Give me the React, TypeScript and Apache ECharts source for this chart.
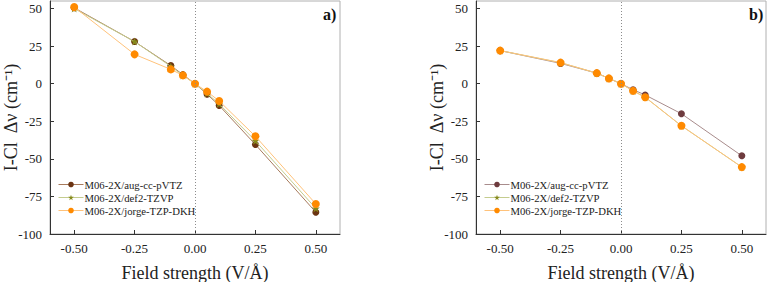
import React, { useEffect, useRef } from "react";
import * as echarts from "echarts";

// Applied field strength (V/Å)
const fieldStrength = [-0.5, -0.25, -0.1, -0.05, 0, 0.05, 0.1, 0.25, 0.5];

// Panel a) I-Cl frequency shift (cm^-1)
const aAugccpVTZ = [50.5, 28, 12, 6, 0, -7, -14.5, -40.5, -85.5];
const aDef2TZVP = [50, 28, 11.5, 5.5, 0, -6.5, -13.5, -38, -83];
const aJorgeTZPDKH = [51, 19.5, 9.5, 5.5, 0, -5.3, -11.5, -35, -80];

// Panel b) I-Cl frequency shift (cm^-1)
const bAugccpVTZ = [22, 13.5, 7, 3.5, 0, -4, -7.5, -20, -48];
const bDef2TZVP = [22, 14, 7, 3.5, 0, -4.8, -9, -28, -55.5];
const bJorgeTZPDKH = [22, 14, 7, 3.5, 0, -4.8, -9, -28, -55.5];

const seriesNames = ["M06-2X/aug-cc-pVTZ", "M06-2X/def2-TZVP", "M06-2X/jorge-TZP-DKH"];
const xTicks = [-0.5, -0.25, 0, 0.25, 0.5];
const yTicks = [-100, -75, -50, -25, 0, 25, 50];
const yTitle = "I-Cl  Δν (cm⁻¹)";
const xTitle = "Field strength (V/Å)";

const FONT = "Liberation Serif";
const STAR =
  "path://M50,0 L61.8,35.3 L99,35.3 L69,57.4 L80.3,93 L50,71 L19.7,93 L31,57.4 L1,35.3 L38.2,35.3 Z";

const pair = (ys: number[]) => fieldStrength.map((x, i) => [x, ys[i]]);

export default function App() {
  const ref = useRef<HTMLDivElement>(null);

  useEffect(() => {
    if (!ref.current) return;
    const chart = echarts.init(ref.current, null, { renderer: "svg" });

    const GRID_TOP = 1;
    const GRID_H = 233;
    const GRID_W = 290;

    const panels = [
      {
        left: 50,
        data: [aAugccpVTZ, aDef2TZVP, aJorgeTZPDKH],
        colors: [
          { mark: "#6b3412", line: "#a77a5c" },
          { mark: "#868a1c", line: "#c4cc8e" },
          { mark: "#ff8a00", line: "#ffc27a" },
        ],
        tag: "a)",
      },
      {
        left: 476,
        data: [bAugccpVTZ, bDef2TZVP, bJorgeTZPDKH],
        colors: [
          { mark: "#6e3b3e", line: "#a88c8c" },
          { mark: "#868a1c", line: "#c4cc8e" },
          { mark: "#ff8a00", line: "#ffc27a" },
        ],
        tag: "b)",
      },
    ];

    const symbols = ["circle", STAR, "circle"];
    const symbolSizes = [7, 8, 8];

    const grid = panels.map((p) => ({
      left: p.left,
      top: GRID_TOP,
      width: GRID_W,
      height: GRID_H,
      outerBoundsMode: "none",
      containLabel: false,
      show: true,
      borderColor: "#b0b0b0",
      borderWidth: 1,
      backgroundColor: "transparent",
    }));

    const xAxis = panels.map((_, i) => ({
      type: "value",
      gridIndex: i,
      min: -0.6,
      max: 0.6,
      name: xTitle,
      nameLocation: "middle",
      nameGap: 30,
      nameTextStyle: { fontFamily: FONT, fontSize: 18, color: "#222" },
      axisLine: { show: true, onZero: false, lineStyle: { color: "#333", width: 1 } },
      axisTick: { show: true, inside: true, length: 4, customValues: xTicks, lineStyle: { color: "#333" } },
      axisLabel: {
        customValues: xTicks,
        formatter: (v: number) => v.toFixed(2),
        fontFamily: FONT,
        fontSize: 13,
        color: "#222",
        margin: 8,
      },
      splitLine: { show: false },
    }));

    const yAxis = panels.map((_, i) => ({
      type: "value",
      gridIndex: i,
      min: -100,
      max: 55,
      axisLine: { show: true, onZero: false, lineStyle: { color: "#333", width: 1 } },
      axisTick: { show: true, inside: true, length: 4, customValues: yTicks, lineStyle: { color: "#333" } },
      axisLabel: {
        customValues: yTicks,
        fontFamily: FONT,
        fontSize: 13,
        color: "#222",
        margin: 8,
      },
      splitLine: { show: false },
    }));

    const series: any[] = [];
    panels.forEach((p, pi) => {
      p.data.forEach((ys, si) => {
        series.push({
          type: "line",
          name: seriesNames[si],
          xAxisIndex: pi,
          yAxisIndex: pi,
          data: pair(ys),
          symbol: symbols[si],
          symbolSize: symbolSizes[si],
          lineStyle: { color: p.colors[si].line, width: 1 },
          itemStyle: { color: p.colors[si].mark },
          z: 2 + si,
          markLine:
            si === 0
              ? {
                  silent: true,
                  symbol: ["none", "none"],
                  label: { show: false },
                  lineStyle: { color: "#8c8c8c", type: [1, 2], width: 1 },
                  data: [{ xAxis: 0 }],
                }
              : undefined,
        });
      });
    });

    const rowTops = [184, 197, 210];
    const legend: any[] = [];
    panels.forEach((p) => {
      seriesNames.forEach((name, si) => {
        legend.push({
          left: p.left + 3,
          top: rowTops[si] - 10,
          itemWidth: 25,
          itemHeight: 7,
          itemGap: 0,
          selectedMode: false,
          textStyle: { fontFamily: FONT, fontSize: 10.7, color: "#222", padding: [0, 0, 0, -4] },
          data: [
            {
              name,
              itemStyle: { color: p.colors[si].mark },
              lineStyle: { color: p.colors[si].line, width: 1 },
            },
          ],
        });
      });
    });

    const graphic: any[] = [];
    panels.forEach((p) => {
      // panel tag in the top-right corner
      graphic.push({
        type: "text",
        x: p.left + GRID_W - 17,
        y: 6,
        style: {
          text: p.tag,
          fontFamily: FONT,
          fontSize: 16,
          fontWeight: "bold",
          fill: "#111",
        },
      });
      // rotated y-axis title, centred on the plot height
      graphic.push({
        type: "text",
        x: p.left - 39,
        y: GRID_TOP + GRID_H / 2,
        rotation: Math.PI / 2,
        style: {
          text: yTitle,
          fontFamily: FONT,
          fontSize: 18,
          fill: "#222",
          align: "center",
          verticalAlign: "middle",
        },
      });
    });

    chart.setOption({
      animation: false,
      backgroundColor: "#ffffff",
      grid,
      xAxis,
      yAxis,
      series,
      legend,
      graphic,
    } as any);

    return () => chart.dispose();
  }, []);

  return (
    <div
      ref={ref}
      style={{ position: "fixed", left: 0, top: 0, width: 767, height: 282 }}
    />
  );
}
